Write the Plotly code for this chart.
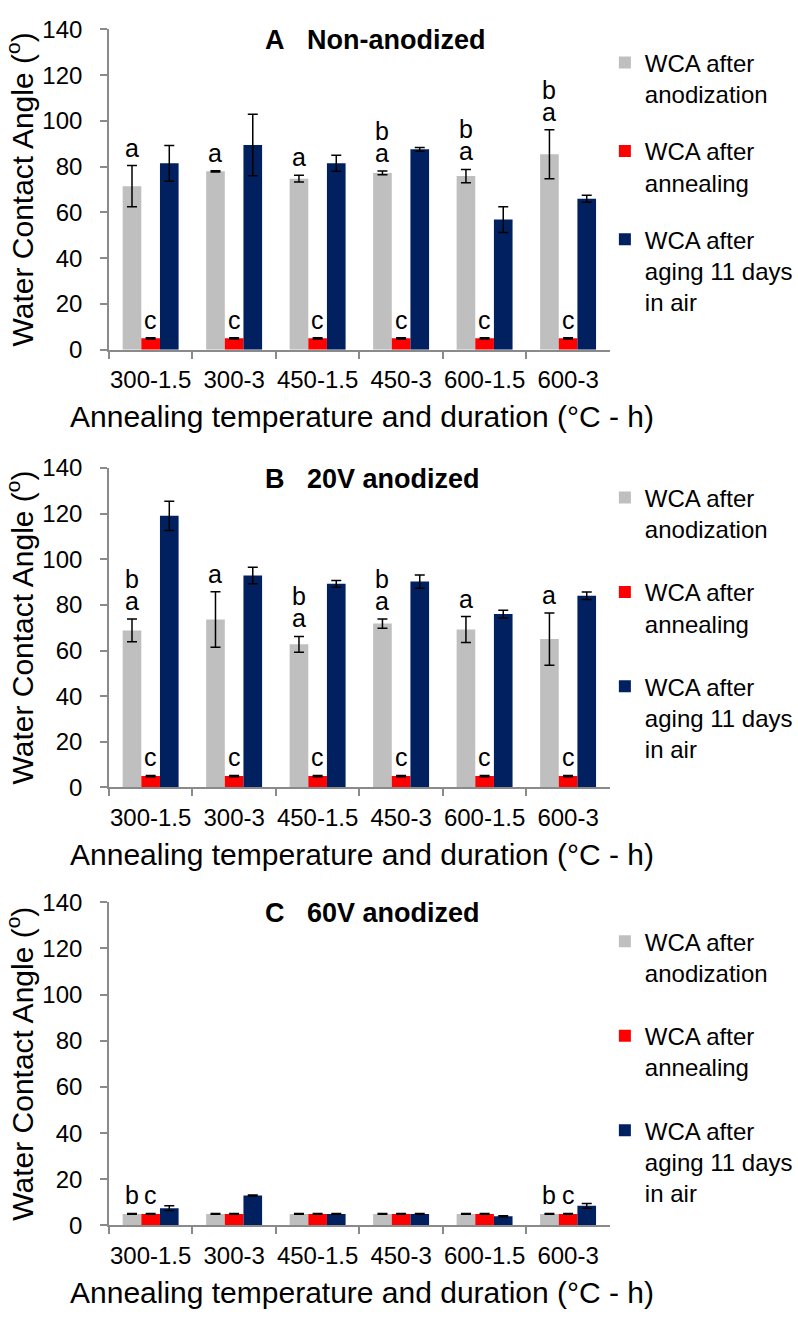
import plotly.graph_objects as go

# ---------------- data ----------------
categories = ["300-1.5", "300-3", "450-1.5", "450-3", "600-1.5", "600-3"]
series_names = ["WCA after<br>anodization", "WCA after<br>annealing",
                "WCA after<br>aging 11 days<br>in air"]
series_colors = ["#BFBFBF", "#FF0000", "#002060"]
panel_titles = ["A\u00a0\u00a0\u00a0Non-anodized", "B\u00a0\u00a0\u00a020V anodized",
                "C\u00a0\u00a0\u00a060V anodized"]

# Panel A - non-anodized
a_anod = [71.5, 78.0, 74.8, 77.3, 75.9, 85.5]
a_anod_err = [9.0, 0.3, 1.5, 0.8, 2.9, 10.7]
a_anneal = [5.0, 5.0, 5.0, 5.0, 5.0, 5.0]
a_anneal_err = [0.3, 0.3, 0.3, 0.3, 0.3, 0.3]
a_aging = [81.5, 89.5, 81.5, 87.6, 56.9, 66.0]
a_aging_err = [7.8, 13.4, 3.5, 0.8, 5.6, 1.5]

# Panel B - 20V anodized
b_anod = [68.8, 73.6, 62.7, 71.8, 69.2, 65.0]
b_anod_err = [5.0, 12.2, 3.5, 2.0, 5.7, 11.4]
b_anneal = [5.0, 5.0, 5.0, 5.0, 5.0, 5.0]
b_anneal_err = [0.3, 0.3, 0.3, 0.3, 0.3, 0.3]
b_aging = [119.0, 92.9, 89.2, 90.2, 76.0, 84.0]
b_aging_err = [6.4, 3.6, 1.5, 2.9, 1.7, 1.6]

# Panel C - 60V anodized
c_anod = [5.0, 5.0, 5.0, 5.0, 5.0, 5.0]
c_anod_err = [0.2, 0.2, 0.2, 0.2, 0.2, 0.2]
c_anneal = [5.0, 5.0, 5.0, 5.0, 5.0, 5.0]
c_anneal_err = [0.2, 0.2, 0.2, 0.2, 0.2, 0.2]
c_aging = [7.5, 13.0, 5.0, 5.0, 4.0, 8.5]
c_aging_err = [1.0, 0.2, 0.2, 0.2, 0.2, 1.0]

# significance letters (bottom to top) per category
a_anod_letters = [["a"], ["a"], ["a"], ["a", "b"], ["a", "b"], ["a", "b"]]
a_anneal_letters = [["c"], ["c"], ["c"], ["c"], ["c"], ["c"]]
b_anod_letters = [["a", "b"], ["a"], ["a", "b"], ["a", "b"], ["a"], ["a"]]
b_anneal_letters = [["c"], ["c"], ["c"], ["c"], ["c"], ["c"]]
c_anod_letters = [["b"], [], [], [], [], ["b"]]
c_anneal_letters = [["c"], [], [], [], [], ["c"]]

y_ticks = [0, 20, 40, 60, 80, 100, 120, 140]
y_title = "Water Contact Angle (<sup>o</sup>)"
x_title = "Annealing temperature and duration (°C - h)"

# ---------------- layout helpers ----------------
W, H = 798, 1332
FONT = "Liberation Sans, Arial, sans-serif"
PLOT_L, PLOT_R = 110, 616
panel_px = [(15.8, 342.7), (463.3, 789.5), (906.7, 1236.5)]
legend_top_px = [27, 471, 924]
legend_gaps = [23, 29, 29]
BARGAP = 0.33


def fx(p):
    return p / W


def fy(p):
    return 1 - p / H


panels = [
    dict(vals=[a_anod, a_anneal, a_aging], errs=[a_anod_err, a_anneal_err, a_aging_err],
         letters=[a_anod_letters, a_anneal_letters, None]),
    dict(vals=[b_anod, b_anneal, b_aging], errs=[b_anod_err, b_anneal_err, b_aging_err],
         letters=[b_anod_letters, b_anneal_letters, None]),
    dict(vals=[c_anod, c_anneal, c_aging], errs=[c_anod_err, c_anneal_err, c_aging_err],
         letters=[c_anod_letters, c_anneal_letters, None]),
]

fig = go.Figure()
annotations = []
layout = dict(
    width=W, height=H, margin=dict(l=0, r=0, t=0, b=0),
    paper_bgcolor="white", plot_bgcolor="white",
    barmode="group", bargap=BARGAP, bargroupgap=0,
    font=dict(family=FONT, color="black"),
    showlegend=True,
)

bar_w = (1 - BARGAP) / 3

for p, pdata in enumerate(panels):
    sfx = "" if p == 0 else str(p + 1)
    xa, ya = "x" + sfx, "y" + sfx
    leg = "legend" + sfx
    top, bot = panel_px[p]
    for s in range(3):
        fig.add_trace(go.Bar(
            x=categories, y=pdata["vals"][s], name=series_names[s],
            marker=dict(color=series_colors[s], line=dict(width=0)),
            error_y=dict(type="data", array=pdata["errs"][s], color="black",
                         thickness=1.5, width=5),
            xaxis=xa, yaxis=ya, legend=leg, legendgroup=f"p{p}s{s}",
        ))
        lets = pdata["letters"][s]
        if lets:
            for i, stack in enumerate(lets):
                ytop = pdata["vals"][s][i] + pdata["errs"][s][i]
                for k, letter in enumerate(stack):
                    annotations.append(dict(
                        x=i + (s - 1) * bar_w, y=ytop, xref=xa, yref=ya,
                        text=letter, showarrow=False, xanchor="center", yanchor="bottom",
                        yshift=2 + 22 * k, font=dict(size=25, family=FONT, color="black")))
    axis_common = dict(showgrid=False, zeroline=False, showline=True, linecolor="#8a8a8a",
                       linewidth=1.5, ticks="outside", ticklen=7, tickcolor="#8a8a8a",
                       tickwidth=1.5, tickfont=dict(size=24, family=FONT, color="black"))
    layout["xaxis" + sfx] = dict(axis_common, domain=[fx(PLOT_L), fx(PLOT_R)], anchor=ya,
                                 type="category", tickson="boundaries", tickangle=0,
                                 ticklabelstandoff=8)
    layout["yaxis" + sfx] = dict(axis_common, domain=[fy(bot), fy(top)], anchor=xa,
                                 range=[0, 140], tickvals=y_ticks, ticklabelstandoff=13)
    layout[leg] = dict(x=fx(611), xanchor="left", y=fy(legend_top_px[p]), yanchor="top",
                       font=dict(size=24, family=FONT, color="black"), valign="top",
                       tracegroupgap=legend_gaps[p], bgcolor="rgba(0,0,0,0)")
    # panel title
    annotations.append(dict(x=fx(266), y=fy(top + 11), xref="paper", yref="paper",
                            xanchor="left", yanchor="middle", showarrow=False,
                            text="<b>" + panel_titles[p] + "</b>",
                            font=dict(size=27, family=FONT, color="black")))
    # axis titles
    annotations.append(dict(x=fx(20), y=fy((top + bot) / 2), xref="paper", yref="paper",
                            xanchor="center", yanchor="middle", showarrow=False, textangle=-90,
                            text=y_title, font=dict(size=30, family=FONT, color="black")))
    annotations.append(dict(x=fx(366), y=fy(bot + 68), xref="paper",
                            yref="paper", xanchor="center", yanchor="middle", showarrow=False,
                            text=x_title, font=dict(size=30, family=FONT, color="black")))

layout["annotations"] = annotations
fig.update_layout(**layout)

fig.write_html("out.html", config={"displayModeBar": False},
               post_script="document.body.style.margin='0';document.body.style.overflow='hidden';")
